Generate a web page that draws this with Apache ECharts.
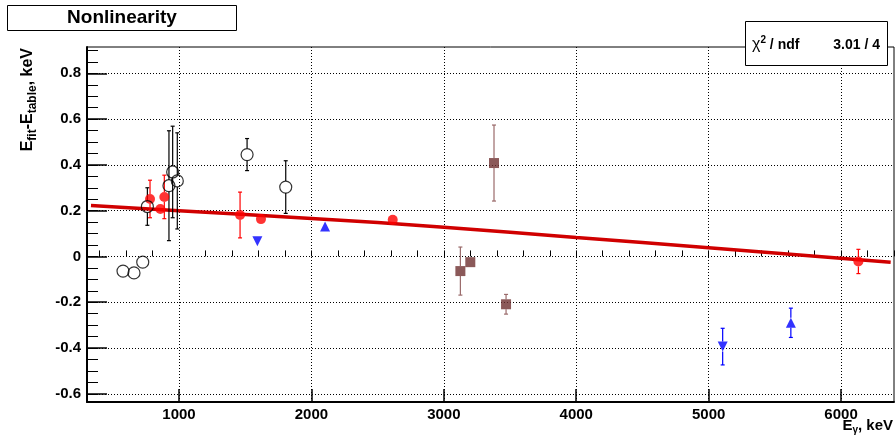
<!DOCTYPE html>
<html>
<head>
<meta charset="utf-8">
<script src="https://cdn.jsdelivr.net/npm/echarts@6/dist/echarts.min.js"></script>
<style>
html,body{margin:0;padding:0;background:#fff;}
#c{width:895px;height:436px;}
</style>
</head>
<body>
<div id="c"></div>
<script>
// ---- data ----
var openX   = [577, 660, 726, 761, 924, 952, 987, 1514, 1806];
var openY   = [-0.064, -0.072, -0.025, 0.218, 0.309, 0.369, 0.330, 0.445, 0.303];
var openErr = [0.01, 0.01, 0.01, 0.082, 0.240, 0.200, 0.210, 0.070, 0.115];

var redX   = [781, 859, 889, 1461, 1619, 2614, 6131];
var redY   = [0.251, 0.207, 0.260, 0.181, 0.163, 0.160, -0.022];
var redErr = [0.082, 0.01, 0.095, 0.100, 0.01, 0.01, 0.053];

var downX   = [1592, 5106];
var downY   = [0.066, -0.394];
var downErr = [0.01, 0.080];

var upX   = [2103, 5621];
var upY   = [0.131, -0.290];
var upErr = [0.01, 0.064];

var sqX   = [3125, 3200, 3379, 3470];
var sqY   = [-0.064, -0.025, 0.408, -0.209];
var sqErr = [0.105, 0.01, 0.166, 0.043];

var fitX = [335, 1000, 2000, 3000, 4000, 5000, 6375];
var fitY = [0.222, 0.200, 0.166, 0.128, 0.083, 0.038, -0.025];

var xTicks = [1000, 2000, 3000, 4000, 5000, 6000];
var yTicks = [-0.6, -0.4, -0.2, 0, 0.2, 0.4, 0.6, 0.8];
var xMinorTicks = [400,600,800,1000,1200,1400,1600,1800,2000,2200,2400,2600,2800,3000,3200,3400,3600,3800,4000,4200,4400,4600,4800,5000,5200,5400,5600,5800,6000,6200,6400];
var yMinorTicks = [-0.6,-0.55,-0.5,-0.45,-0.4,-0.35,-0.3,-0.25,-0.2,-0.15,-0.1,-0.05,0,0.05,0.1,0.15,0.2,0.25,0.3,0.35,0.4,0.45,0.5,0.55,0.6,0.65,0.7,0.75,0.8,0.85,0.9];

var chi2Text = '3.01 / 4';
var titleText = 'Nonlinearity';

// ---- helpers ----
function pts(xs, ys) { return xs.map(function (x, i) { return [x, ys[i]]; }); }
function errPts(xs, ys, es) { return xs.map(function (x, i) { return [x, ys[i], es[i]]; }); }

var FONT = '"Liberation Sans", Arial, Helvetica, sans-serif';

function errSeries(xs, ys, es, color, gap) {
  return {
    type: 'custom',
    xAxisIndex: 0, yAxisIndex: 0,
    data: errPts(xs, ys, es),
    encode: { x: 0, y: 1 },
    z: 3,
    silent: true,
    renderItem: function (params, api) {
      var x = api.value(0), y = api.value(1), e = api.value(2);
      var c = api.coord([x, y]);
      var t = api.coord([x, y + e]);
      var b = api.coord([x, y - e]);
      var children = [];
      var st = { stroke: color, lineWidth: 1.2 };
      if (c[1] - t[1] > gap) {
        children.push({ type: 'line', shape: { x1: c[0], y1: c[1] - gap, x2: t[0], y2: t[1] }, style: st });
        children.push({ type: 'line', shape: { x1: t[0] - 2, y1: t[1], x2: t[0] + 2, y2: t[1] }, style: st });
      }
      if (b[1] - c[1] > gap) {
        children.push({ type: 'line', shape: { x1: c[0], y1: c[1] + gap, x2: b[0], y2: b[1] }, style: st });
        children.push({ type: 'line', shape: { x1: b[0] - 2, y1: b[1], x2: b[0] + 2, y2: b[1] }, style: st });
      }
      return { type: 'group', children: children };
    }
  };
}

function markerSeries(xs, ys, symbol, size, itemStyle, rotate) {
  return {
    type: 'scatter',
    xAxisIndex: 0, yAxisIndex: 0,
    data: pts(xs, ys),
    symbol: symbol,
    symbolSize: size,
    symbolRotate: rotate || 0,
    itemStyle: itemStyle,
    z: 4,
    silent: true
  };
}

var chart = echarts.init(document.getElementById('c'), null, { renderer: 'canvas' });

var option = {
  animation: false,
  backgroundColor: '#fff',
  grid: {
    left: 87, right: 1, top: 47, bottom: 34,
    show: true, borderColor: '#000', borderWidth: 1,
    containLabel: false
  },
  xAxis: [
    {
      type: 'value', min: 305, max: 6400,
      axisLine: { show: true, onZero: false, lineStyle: { color: '#000', width: 2 } },
      axisTick: { show: true, inside: true, length: 13, customValues: xTicks, lineStyle: { color: '#000', width: 1.5 } },
      axisLabel: {
        customValues: xTicks, color: '#000', fontSize: 15, fontWeight: 'bold', fontFamily: FONT, margin: 5,
        formatter: function (v) { return String(v); }
      },
      splitLine: { show: true, lineStyle: { color: '#000', width: 1, type: [1, 2] } }
    },
    {
      type: 'value', min: 305, max: 6400, position: 'bottom',
      axisLine: { show: false },
      axisTick: { show: true, inside: true, length: 6, customValues: xMinorTicks, lineStyle: { color: '#000', width: 1 } },
      axisLabel: { show: false },
      splitLine: { show: false }
    }
  ],
  yAxis: [
    {
      type: 'value', min: -0.636, max: 0.915,
      axisLine: { show: true, onZero: false, lineStyle: { color: '#000', width: 2 } },
      axisTick: { show: true, inside: true, length: 20, customValues: yTicks, lineStyle: { color: '#000', width: 1.5 } },
      axisLabel: {
        customValues: yTicks, color: '#000', fontSize: 15, fontWeight: 'bold', fontFamily: FONT, margin: 6,
        formatter: function (v) { return String(Math.round(v * 10) / 10); }
      },
      splitLine: { show: true, lineStyle: { color: '#000', width: 1, type: [1, 2] } }
    },
    {
      type: 'value', min: -0.636, max: 0.915, position: 'left',
      axisLine: { show: false },
      axisTick: { show: true, inside: true, length: 11, customValues: yMinorTicks, lineStyle: { color: '#000', width: 1 } },
      axisLabel: { show: false },
      splitLine: { show: false }
    }
  ],
  series: [
    {
      type: 'line',
      xAxisIndex: 0, yAxisIndex: 0,
      data: pts(fitX, fitY),
      symbol: 'none',
      smooth: true,
      lineStyle: { color: '#d00000', width: 3.5 },
      z: 2,
      silent: true
    },
    errSeries(openX, openY, openErr, '#000', 6),
    errSeries(redX, redY, redErr, '#ff0000', 5),
    errSeries(downX, downY, downErr, '#0000ff', 5),
    errSeries(upX, upY, upErr, '#0000ff', 5),
    errSeries(sqX, sqY, sqErr, '#9a6a6a', 5),
    markerSeries(redX, redY, 'circle', 10, { color: '#ff0000' }),
    markerSeries(openX, openY, 'circle', 12, { color: 'rgba(0,0,0,0)', borderColor: '#000', borderWidth: 1.2 }),
    markerSeries(downX, downY, 'triangle', 10, { color: '#0000ff' }, 180),
    markerSeries(upX, upY, 'triangle', 10, { color: '#0000ff' }),
    markerSeries(sqX, sqY, 'rect', 10, { color: '#6e3030' })
  ],
  graphic: [
    {
      type: 'rect', z: 100,
      shape: { x: 7.5, y: 5.5, width: 229, height: 25 },
      style: { fill: '#fff', stroke: '#000', lineWidth: 1 }
    },
    {
      type: 'text', z: 101, x: 122, y: 18,
      style: { text: titleText, fill: '#000', font: 'bold 19px ' + FONT, align: 'center', verticalAlign: 'middle' }
    },
    {
      type: 'rect', z: 100,
      shape: { x: 745.5, y: 21.5, width: 142, height: 44 },
      style: { fill: '#fff', stroke: '#000', lineWidth: 1 }
    },
    {
      type: 'text', z: 101, x: 752, y: 45,
      style: {
        text: '{c|χ}{sup|2}{b| / ndf}',
        verticalAlign: 'middle', align: 'left',
        rich: {
          c: { fontSize: 16, fontFamily: FONT, fill: '#000' },
          sup: { fontSize: 10, fontFamily: FONT, fill: '#000', fontWeight: 'bold', padding: [0, 0, 9, 0] },
          b: { fontSize: 14, fontWeight: 'bold', fontFamily: FONT, fill: '#000' }
        }
      }
    },
    {
      type: 'text', z: 101, x: 880, y: 45,
      style: { text: chi2Text, fill: '#000', font: 'bold 14px ' + FONT, align: 'right', verticalAlign: 'middle' }
    },
    {
      type: 'text', z: 101, x: 893, y: 426,
      style: {
        text: '{m|E}{s|γ}{m|, keV}',
        align: 'right', verticalAlign: 'middle',
        rich: {
          m: { fontSize: 15, fontWeight: 'bold', fontFamily: FONT, fill: '#000' },
          s: { fontSize: 10, fontWeight: 'bold', fontFamily: FONT, fill: '#000', padding: [9, 0, 0, 0] }
        }
      }
    },
    {
      type: 'text', z: 101, x: 28, y: 48, rotation: Math.PI / 2,
      style: {
        text: '{m|E}{s|fit}{m|-E}{s|table}{m|, keV}',
        align: 'right', verticalAlign: 'middle',
        rich: {
          m: { fontSize: 16, fontWeight: 'bold', fontFamily: FONT, fill: '#000' },
          s: { fontSize: 12, fontWeight: 'bold', fontFamily: FONT, fill: '#000', padding: [10, 0, 0, 0] }
        }
      }
    }
  ]
};
chart.setOption(option);
</script>
</body>
</html>
